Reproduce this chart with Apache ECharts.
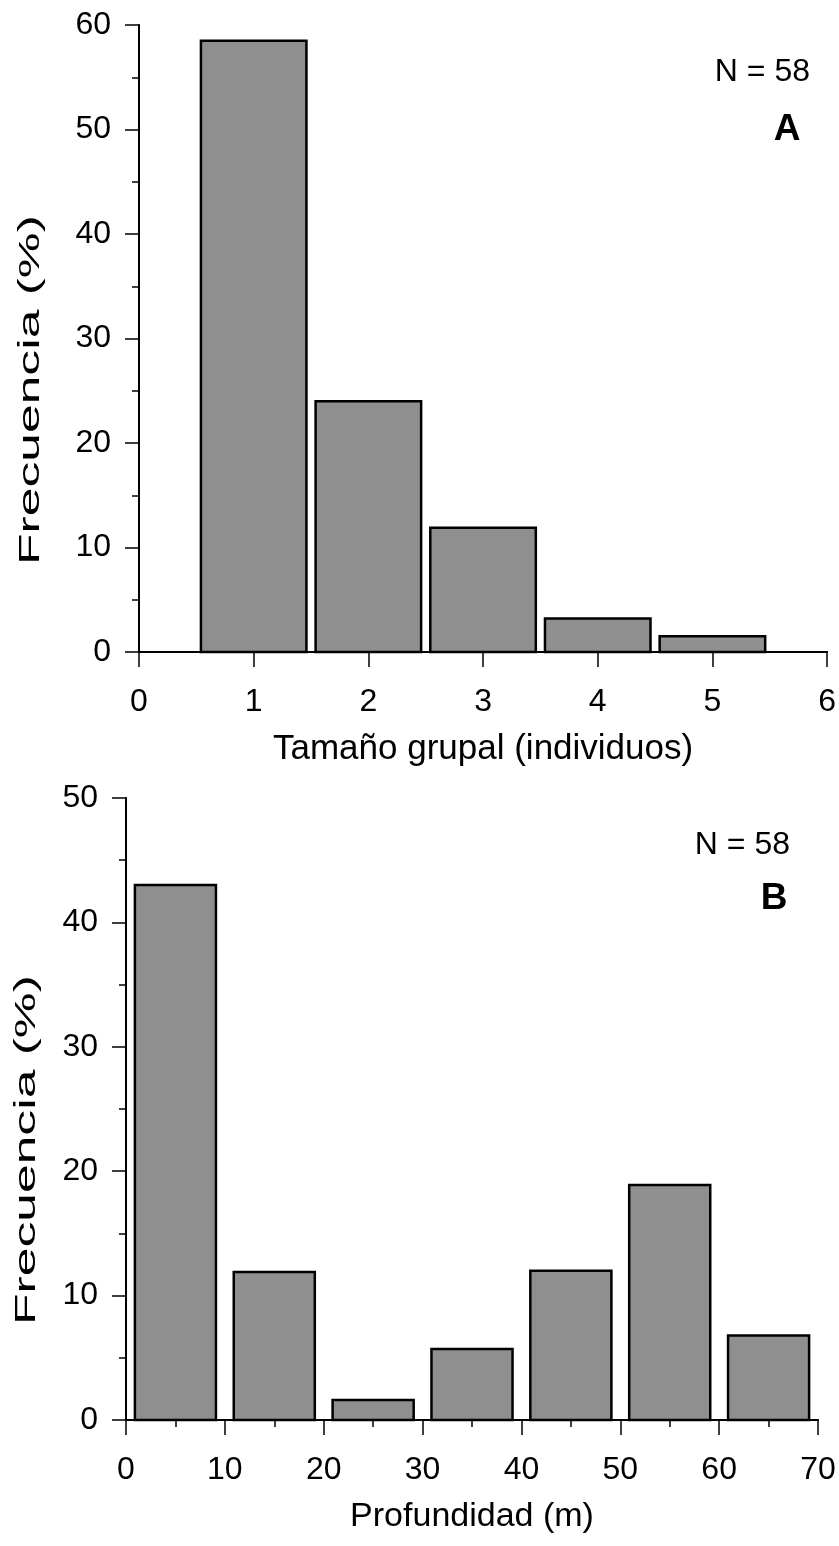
<!DOCTYPE html>
<html>
<head>
<meta charset="utf-8">
<script src="https://cdn.jsdelivr.net/npm/echarts@6/dist/echarts.min.js"></script>
<style>
  html, body { margin: 0; padding: 0; background: #fff; }
  #chart { width: 839px; height: 1546px; }
</style>
</head>
<body>
<div id="chart"></div>
<script>
// Panel A - tamaño grupal
const groupSizes = [1, 2, 3, 4, 5];
const groupFreq = [58.5, 24.0, 11.9, 3.2, 1.5];
// Panel B - profundidad (centro de cada intervalo de 10 m)
const depthMid = [5, 15, 25, 35, 45, 55, 65];
const depthFreq = [43.0, 11.9, 1.6, 5.7, 12.0, 18.9, 6.8];

const FONT = "Liberation Sans";
const BAR_FILL = "#8f8f8f";

// rectangulo centrado en x con ancho "w" en unidades del eje
function barRenderer(w) {
  return function (params, api) {
    const x = api.value(0), y = api.value(1);
    const p0 = api.coord([x - w / 2, y]);
    const p1 = api.coord([x + w / 2, 0]);
    return {
      type: "rect",
      shape: { x: p0[0], y: p0[1], width: p1[0] - p0[0], height: p1[1] - p0[1] },
      style: { fill: BAR_FILL, stroke: "#000", lineWidth: 2.5 }
    };
  };
}

function valueXAxis(grid, max, interval, minor, name, nameSize) {
  return {
    type: "value", gridIndex: grid, min: 0, max: max, interval: interval,
    name: name, nameLocation: "middle", nameGap: 80,
    nameTextStyle: { fontFamily: FONT, fontSize: nameSize, color: "#000" },
    axisLine: { onZero: false, lineStyle: { color: "#000", width: 2 } },
    axisTick: { length: 15, lineStyle: { color: "#000", width: 1.5 } },
    minorTick: { show: minor, splitNumber: 2, length: 7, lineStyle: { color: "#000", width: 1.5 } },
    axisLabel: { fontFamily: FONT, fontSize: 32, color: "#000", margin: 34 },
    splitLine: { show: false }
  };
}

function valueYAxis(grid, max) {
  return {
    type: "value", gridIndex: grid, min: 0, max: max, interval: 10,
    axisLine: { show: true, lineStyle: { color: "#000", width: 2 } },
    axisTick: { show: true, length: 14, lineStyle: { color: "#000", width: 1.5 } },
    minorTick: { show: true, splitNumber: 2, length: 7, lineStyle: { color: "#000", width: 1.5 } },
    axisLabel: { fontFamily: FONT, fontSize: 32, color: "#000", margin: 28 },
    splitLine: { show: false }
  };
}

// lineas del marco (arriba / derecha)
function frameX(grid, max) {
  return {
    type: "value", gridIndex: grid, position: "top", min: 0, max: max,
    axisLine: { show: true, lineStyle: { color: "#000", width: 2 } },
    axisTick: { show: false }, axisLabel: { show: false }, splitLine: { show: false }
  };
}
function frameY(grid, max) {
  return {
    type: "value", gridIndex: grid, position: "right", min: 0, max: max,
    axisLine: { show: true, lineStyle: { color: "#000", width: 1.5 } },
    axisTick: { show: false }, axisLabel: { show: false }, splitLine: { show: false }
  };
}

const chart = echarts.init(document.getElementById("chart"), null, { renderer: "canvas" });

chart.setOption({
  backgroundColor: "#fff",
  animation: false,
  grid: [
    { left: 139, right: 9, top: 25, bottom: 894 },
    { left: 126, right: 21, top: 798, bottom: 126 }
  ],
  xAxis: [
    valueXAxis(0, 6, 1, false, "Tamaño grupal (individuos)", 35),
    valueXAxis(1, 70, 10, true, "Profundidad (m)", 34),
    frameX(0, 6),
    frameX(1, 70)
  ],
  yAxis: [
    valueYAxis(0, 60),
    valueYAxis(1, 50),
    frameY(0, 60),
    frameY(1, 50)
  ],
  graphic: [
    {
      type: "text", x: 31, y: 390, rotation: Math.PI / 2, scaleX: 1.72,
      style: { text: "Frecuencia (%)", fontFamily: FONT, fontSize: 30, fill: "#000",
               textAlign: "center", textVerticalAlign: "middle" }
    },
    {
      type: "text", x: 27, y: 1150, rotation: Math.PI / 2, scaleX: 1.72,
      style: { text: "Frecuencia (%)", fontFamily: FONT, fontSize: 30, fill: "#000",
               textAlign: "center", textVerticalAlign: "middle" }
    },
    {
      type: "text", x: 810, y: 72,
      style: { text: "N = 58", fontFamily: FONT, fontSize: 32, fill: "#000",
               textAlign: "right", textVerticalAlign: "middle" }
    },
    {
      type: "text", x: 787, y: 130,
      style: { text: "A", fontFamily: FONT, fontSize: 37, fontWeight: "bold", fill: "#000",
               textAlign: "center", textVerticalAlign: "middle" }
    },
    {
      type: "text", x: 790, y: 845,
      style: { text: "N = 58", fontFamily: FONT, fontSize: 32, fill: "#000",
               textAlign: "right", textVerticalAlign: "middle" }
    },
    {
      type: "text", x: 774, y: 899,
      style: { text: "B", fontFamily: FONT, fontSize: 37, fontWeight: "bold", fill: "#000",
               textAlign: "center", textVerticalAlign: "middle" }
    }
  ],
  series: [
    {
      type: "custom", xAxisIndex: 0, yAxisIndex: 0,
      renderItem: barRenderer(0.92),
      encode: { x: 0, y: 1 },
      data: groupSizes.map((g, i) => [g, groupFreq[i]])
    },
    {
      type: "custom", xAxisIndex: 1, yAxisIndex: 1,
      renderItem: barRenderer(8.2),
      encode: { x: 0, y: 1 },
      data: depthMid.map((d, i) => [d, depthFreq[i]])
    }
  ]
});
</script>
</body>
</html>
